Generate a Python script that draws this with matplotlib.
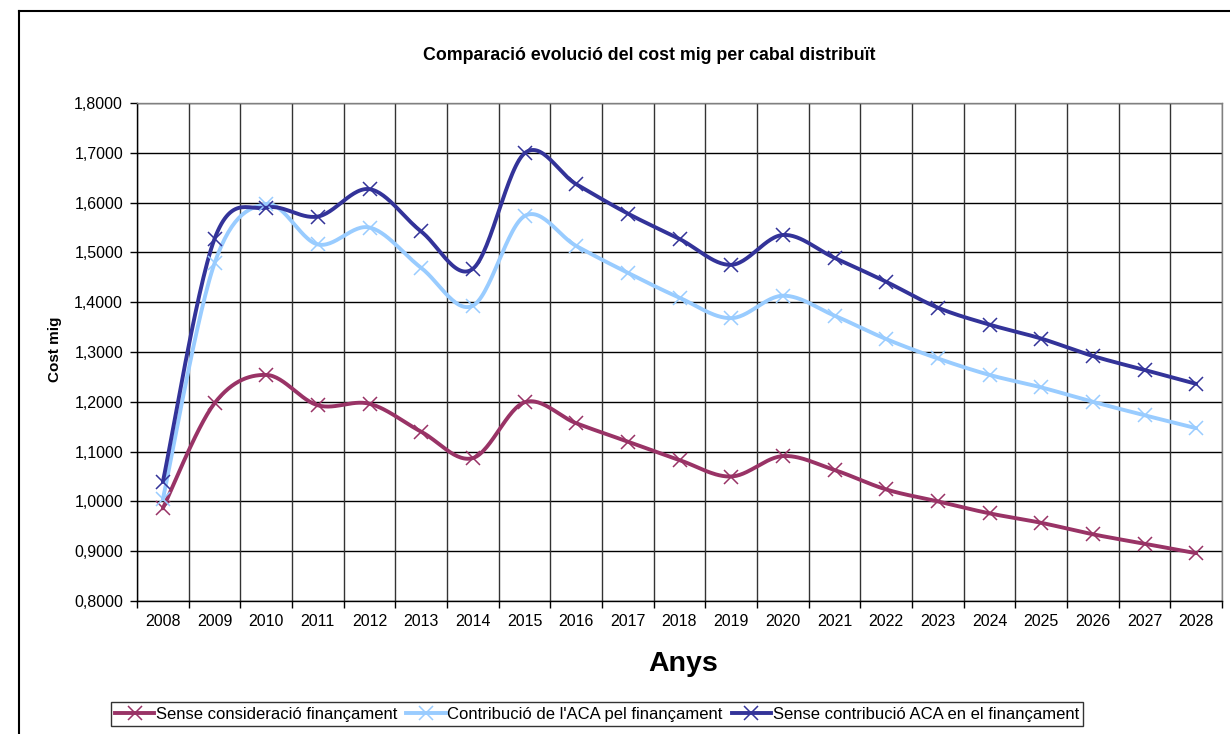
import numpy as np
import matplotlib
matplotlib.use("Agg")
import matplotlib.pyplot as plt
from matplotlib.lines import Line2D
from matplotlib.ticker import FixedLocator, FuncFormatter

plt.rcParams['font.family'] = ['Liberation Sans', 'DejaVu Sans']

years = [str(y) for y in range(2008, 2029)]

sense_consideracio = [0.986, 1.197, 1.254, 1.193, 1.196, 1.140, 1.087, 1.199, 1.157, 1.120,
                      1.083, 1.050, 1.091, 1.063, 1.024, 1.000, 0.976, 0.957, 0.934, 0.915, 0.896]
contribucio_aca = [1.004, 1.478, 1.597, 1.516, 1.550, 1.469, 1.393, 1.573, 1.513, 1.459,
                   1.409, 1.368, 1.413, 1.373, 1.326, 1.287, 1.254, 1.229, 1.200, 1.173, 1.147]
sense_contribucio = [1.039, 1.527, 1.590, 1.572, 1.627, 1.542, 1.467, 1.699, 1.637, 1.578,
                     1.527, 1.475, 1.535, 1.489, 1.441, 1.389, 1.355, 1.327, 1.292, 1.264, 1.236]

series_names = ["Sense consideració finançament",
                "Contribució de l'ACA pel finançament",
                "Sense contribució ACA en el finançament"]
series_colors = ["#993366", "#99CCFF", "#333399"]

title = "Comparació evolució del cost mig per cabal distribuït"
ylabel = "Cost mig"
xlabel = "Anys"


def smooth(xs, ys, n=30):
    xs = np.asarray(xs, float)
    ys = np.asarray(ys, float)
    P = np.column_stack([xs, ys])
    Pp = np.vstack([P[0], P, P[-1]])
    out = []
    for i in range(len(P) - 1):
        p0, p1, p2, p3 = Pp[i], Pp[i + 1], Pp[i + 2], Pp[i + 3]
        c1 = p1 + (p2 - p0) / 6.0
        c2 = p2 - (p3 - p1) / 6.0
        t = np.linspace(0, 1, n, endpoint=(i == len(P) - 2))[:, None]
        b = ((1 - t) ** 3) * p1 + 3 * ((1 - t) ** 2) * t * c1 + 3 * (1 - t) * t ** 2 * c2 + t ** 3 * p2
        out.append(b)
    out = np.vstack(out)
    return out[:, 0], out[:, 1]


fig = plt.figure(figsize=(12.3, 7.34), dpi=100)
ax = fig.add_axes([137 / 1230, 1 - 601 / 734, (1222 - 137) / 1230, (601 - 103) / 734])

x = np.arange(len(years))
for vals, name, col in zip([sense_consideracio, contribucio_aca, sense_contribucio],
                           series_names, series_colors):
    sx, sy = smooth(x, vals)
    ax.plot(sx, sy, color=col, lw=2.8, solid_capstyle='round', zorder=3)
    ax.plot(x, vals, ls='none', marker='x', ms=10, mew=1.1, color=col, zorder=4)

ax.set_xlim(-0.5, len(years) - 0.5)
ax.set_ylim(0.8, 1.8)

yt = np.round(np.arange(0.8, 1.8001, 0.1), 1)
ax.yaxis.set_major_locator(FixedLocator(yt))
ax.yaxis.set_major_formatter(FuncFormatter(lambda v, p: f"{v:.4f}".replace('.', ',')))

ax.set_xticks(x)
ax.set_xticklabels(years)
ax.set_xticks(np.arange(-0.5, len(years), 1.0), minor=True)
ax.tick_params(axis='x', which='major', length=0, pad=9, labelsize=11.5)
ax.tick_params(axis='x', which='minor', length=5, width=1, color='black', direction='out')
ax.tick_params(axis='y', which='major', length=5, width=1, direction='out', pad=5, labelsize=11.5)

ax.grid(False)
for v in yt:
    ax.axhline(v, color='black', lw=1, zorder=1)
for v in np.arange(-0.5, len(years), 1.0):
    ax.axvline(v, color='#333333', lw=1, zorder=1)

for s in ['top', 'right']:
    ax.spines[s].set_color('#808080')
    ax.spines[s].set_linewidth(1)
for s in ['left', 'bottom']:
    ax.spines[s].set_color('black')
    ax.spines[s].set_linewidth(1)

fig.text(649 / 1230, 1 - 55 / 734, title, ha='center', va='center', fontsize=12.8, fontweight='bold')
fig.text(55 / 1230, 1 - 349 / 734, ylabel, ha='center', va='center', rotation=90, fontsize=11, fontweight='bold')
fig.text(683 / 1230, 1 - 664 / 734, xlabel, ha='center', va='center', fontsize=20.5, fontweight='bold')

handles = [Line2D([0, 0.5, 1], [0, 0, 0], color=c, lw=2.8, marker='x', ms=10, mew=1.1, markevery=[1])
           for c in series_colors]
leg = fig.legend(handles, series_names, loc='center', bbox_to_anchor=(597 / 1230, 1 - 714 / 734),
                 ncol=3, frameon=True, fancybox=False, shadow=False, fontsize=12,
                 handlelength=2.35, handletextpad=0.1, columnspacing=0.55, borderpad=0.25,
                 borderaxespad=0)
leg.get_frame().set_edgecolor('black')
leg.get_frame().set_linewidth(1)

fig.add_artist(Line2D([19 / 1230, 19 / 1230], [0, 1 - 11 / 734], color='black', lw=1.5,
                      transform=fig.transFigure))
fig.add_artist(Line2D([19 / 1230, 1], [1 - 11 / 734, 1 - 11 / 734], color='black', lw=1.5,
                      transform=fig.transFigure))

fig.savefig("out.png", dpi=100)
